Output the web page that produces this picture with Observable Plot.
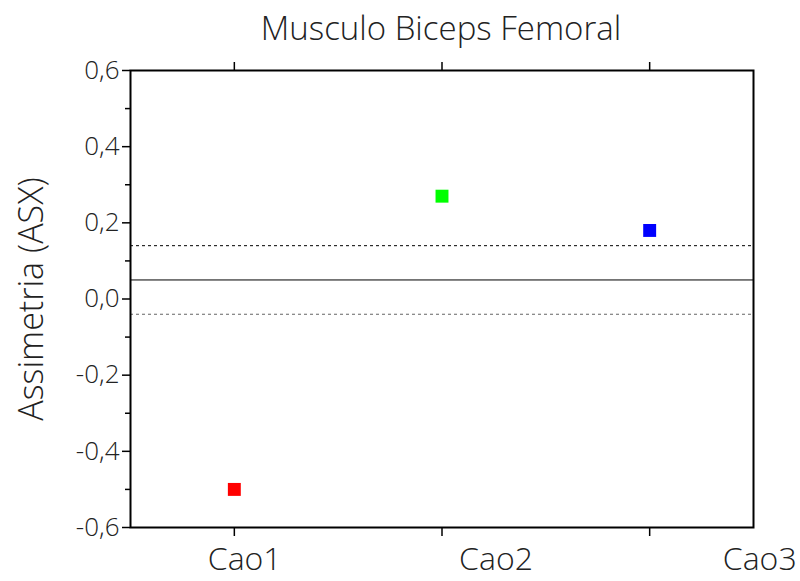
<!DOCTYPE html>
<html>
<head>
<meta charset="utf-8">
<script src="https://cdn.jsdelivr.net/npm/d3@7"></script>
<script src="https://cdn.jsdelivr.net/npm/@observablehq/plot@0.6"></script>
<style>
  html, body { margin: 0; padding: 0; background: #fff; }
  #wrap { position: relative; width: 800px; height: 581px; font-family: "Open Sans", "Liberation Sans", sans-serif; }
  #title { position: absolute; left: 441px; top: 5px; transform: translateX(-50%); font-size: 33px; font-weight: 300; color: #222; white-space: nowrap; }
  #ylabel { position: absolute; left: 30px; top: 299px; transform: translate(-50%, -50%) rotate(-90deg); font-size: 34px; font-weight: 300; color: #222; white-space: nowrap; }
</style>
</head>
<body>
<div id="wrap">
  <div id="title">Musculo Biceps Femoral</div>
  <div id="ylabel">Assimetria (ASX)</div>
</div>
<script>
// Data
const categories = ["Cao1", "Cao2", "Cao3"];
const values = [-0.50, 0.27, 0.18];
const pointColors = ["#ff0000", "#00ff00", "#0000ff"];
const meanLine = 0.05;
const upperLimit = 0.14;
const lowerLimit = -0.04;
const yTicks = [-0.6, -0.4, -0.2, 0, 0.2, 0.4, 0.6];
const yMinorTicks = [-0.5, -0.3, -0.1, 0.1, 0.3, 0.5];

// Layout constant: where the category labels sit along x (as in the reference)
const labelPositions = [1.05, 2.26, 3.53];

const points = categories.map((c, i) => ({cat: c, idx: i + 1, value: values[i], color: pointColors[i]}));
const labels = categories.map((c, i) => ({cat: c, pos: labelPositions[i]}));
const tickIdx = categories.map((c, i) => i + 1);

const fmt = d => d.toFixed(1).replace(".", ",");

const chart = Plot.plot({
  width: 800,
  height: 581,
  marginLeft: 130,
  marginRight: 47,
  marginTop: 70,
  marginBottom: 54,
  style: {fontFamily: '"Open Sans", "Liberation Sans", sans-serif', fontSize: "26px", color: "#222", background: "#fff", overflow: "visible"},
  x: {type: "linear", domain: [0.5, 3.5], axis: null},
  y: {domain: [-0.6, 0.6], axis: null},
  color: {type: "identity"},
  marks: [
    Plot.ruleY([meanLine], {stroke: "#000", strokeWidth: 1}),
    Plot.ruleY([upperLimit], {stroke: "#000", strokeWidth: 1, strokeDasharray: "3,3"}),
    Plot.ruleY([lowerLimit], {stroke: "#666", strokeWidth: 1.2, strokeDasharray: "3,3"}),
    Plot.axisY(yTicks, {anchor: "left", tickSize: 8, tickPadding: 3, tickFormat: fmt, label: null, fontSize: 26, fontWeight: 300, strokeWidth: 1.5, stroke: "#000", fill: "#222"}),
    Plot.axisY(yMinorTicks, {anchor: "left", tickSize: 5, tickFormat: () => "", label: null, strokeWidth: 1.5, stroke: "#000"}),
    Plot.axisX(tickIdx, {anchor: "bottom", tickSize: 9, tickFormat: () => "", label: null, strokeWidth: 1.5, stroke: "#000"}),
    Plot.axisX(tickIdx, {anchor: "top", tickSize: 9, tickFormat: () => "", label: null, strokeWidth: 1.5, stroke: "#000"}),
    Plot.frame({stroke: "#000", strokeWidth: 2}),
    Plot.dot(points, {x: "idx", y: "value", symbol: "square", r: 7.3, fill: "color", stroke: null}),
    Plot.text(labels, {x: "pos", text: "cat", frameAnchor: "bottom", dy: 42, fontSize: 32, fontWeight: 300, fill: "#222"})
  ]
});
document.getElementById("wrap").prepend(chart);
</script>
</body>
</html>
